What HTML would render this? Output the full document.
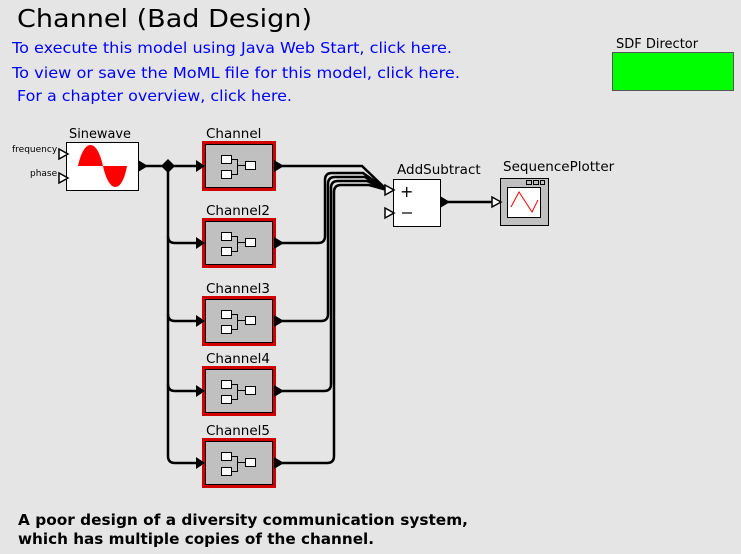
<!DOCTYPE html>
<html><head><meta charset="utf-8"><style>
html,body{margin:0;padding:0;background:#e5e5e5;}
svg{display:block;font-family:"DejaVu Sans","Liberation Sans",sans-serif;}
</style></head><body>
<svg width="741" height="554" viewBox="0 0 741 554" xmlns="http://www.w3.org/2000/svg">
<rect width="741" height="554" fill="#e5e5e5"/>
<text x="17" y="27" font-size="25" textLength="295" lengthAdjust="spacingAndGlyphs">Channel (Bad Design)</text>
<g fill="#0000ff" font-size="15">
<text x="12" y="53" textLength="440" lengthAdjust="spacingAndGlyphs">To execute this model using Java Web Start, click here.</text>
<text x="12" y="78" textLength="448" lengthAdjust="spacingAndGlyphs">To view or save the MoML file for this model, click here.</text>
<text x="17" y="101" textLength="275" lengthAdjust="spacingAndGlyphs">For a chapter overview, click here.</text>
</g>
<text x="616" y="48" font-size="13">SDF Director</text>
<rect x="612.5" y="52.5" width="121" height="38" fill="#00ff00" stroke="#555"/>

<g fill="none" stroke="#000" stroke-width="2.5">
<path d="M146 166 H203"/>
<path d="M168 166 V456 Q168 463 175 463 H203"/>
<path d="M168 236 Q168 243 175 243 H203"/>
<path d="M168 314 Q168 321 175 321 H203"/>
<path d="M168 384 Q168 391 175 391 H203"/>
<path d="M282 166 H362 L387 190"/>
<path d="M282 243 H318 Q325 243 325 236 V180 Q325 173 332 173 H363 L387 190"/>
<path d="M282 321 H321 Q328 321 328 314 V184 Q328 177 335 177 H365 L387 190"/>
<path d="M282 391 H324 Q331 391 331 384 V188 Q331 181 338 181 H367 L387 190"/>
<path d="M282 463 H327 Q334 463 334 456 V192 Q334 185 341 185 H369 L387 190"/>
<path d="M448 202 H494"/>
</g>
<polygon points="168,159 175,166 168,173 161,166" fill="#000"/>

<text x="69" y="138" font-size="13" textLength="62" lengthAdjust="spacingAndGlyphs">Sinewave</text>
<text x="12" y="152" font-size="9">frequency</text>
<text x="30" y="176" font-size="9">phase</text>
<rect x="66.5" y="142.5" width="72" height="48" fill="#fff" stroke="#000"/>
<path d="M78 166 C84 138 97 138 103 166 C109 194 122 194 127 166 Z" fill="#f00"/>
<polygon points="59,149 68,154 59,159" fill="#fff" stroke="#000" stroke-width="1.5"/>
<polygon points="59,173 68,178 59,183" fill="#fff" stroke="#000" stroke-width="1.5"/>
<polygon points="138,160 148,166 138,172" fill="#000"/>

<g font-size="13.5">
<text x="206" y="138">Channel</text>
<text x="206" y="215">Channel2</text>
<text x="206" y="293">Channel3</text>
<text x="206" y="363">Channel4</text>
<text x="206" y="435">Channel5</text>
</g>
<defs>
<g id="inner">
<rect x="221.5" y="155.5" width="10" height="8" fill="#fff" stroke="#000"/>
<rect x="221.5" y="170.5" width="10" height="8" fill="#fff" stroke="#000"/>
<rect x="245.5" y="161.5" width="10" height="8" fill="#fff" stroke="#000"/>
<path d="M231.5 159.5 H237.5 V174.5 H231.5 M237.5 165.5 H245.5" fill="none" stroke="#000"/>
</g>
<g id="chbox">
<rect x="203.5" y="142.5" width="71" height="47" fill="#c0c0c0" stroke="#d00000" stroke-width="3"/>
<rect x="205.5" y="144.5" width="67" height="43" fill="none" stroke="#000"/>
<use href="#inner"/>
<polygon points="196,160 205,166 196,172" fill="#000"/>
<polygon points="274,160 284,166 274,172" fill="#000"/>
</g>
</defs>
<use href="#chbox"/>
<use href="#chbox" y="77"/>
<use href="#chbox" y="155"/>
<use href="#chbox" y="225"/>
<use href="#chbox" y="297"/>

<text x="397" y="174" font-size="13.5">AddSubtract</text>
<rect x="393.5" y="179.5" width="47" height="47" fill="#fff" stroke="#000"/>
<text x="400" y="197" font-size="16">+</text>
<path d="M402 213 H412" stroke="#000" stroke-width="1.2"/>
<polygon points="385,185 394,190 385,195" fill="#fff" stroke="#000" stroke-width="1.5"/>
<polygon points="385,208 394,213 385,218" fill="#fff" stroke="#000" stroke-width="1.5"/>
<polygon points="440,196 450,202 440,208" fill="#000"/>

<text x="503" y="171" font-size="13.5">SequencePlotter</text>
<rect x="500.5" y="178.5" width="48" height="47" fill="#c0c0c0" stroke="#000"/>
<rect x="526.5" y="180.5" width="5" height="4" fill="none" stroke="#000"/>
<rect x="533.5" y="180.5" width="5" height="4" fill="none" stroke="#000"/>
<rect x="540.5" y="180.5" width="4" height="4" fill="none" stroke="#000"/>
<rect x="507.5" y="187.5" width="33" height="30" fill="#fff" stroke="#000"/>
<path d="M511 207 L519 192 L532 212 L538 200" fill="none" stroke="#f00"/>
<polygon points="492,197 501,202 492,207" fill="#fff" stroke="#000" stroke-width="1.5"/>

<g font-size="15" font-weight="bold">
<text x="18" y="525" textLength="450" lengthAdjust="spacingAndGlyphs">A poor design of a diversity communication system,</text>
<text x="18" y="544" textLength="356" lengthAdjust="spacingAndGlyphs">which has multiple copies of the channel.</text>
</g>
</svg>
</body></html>
